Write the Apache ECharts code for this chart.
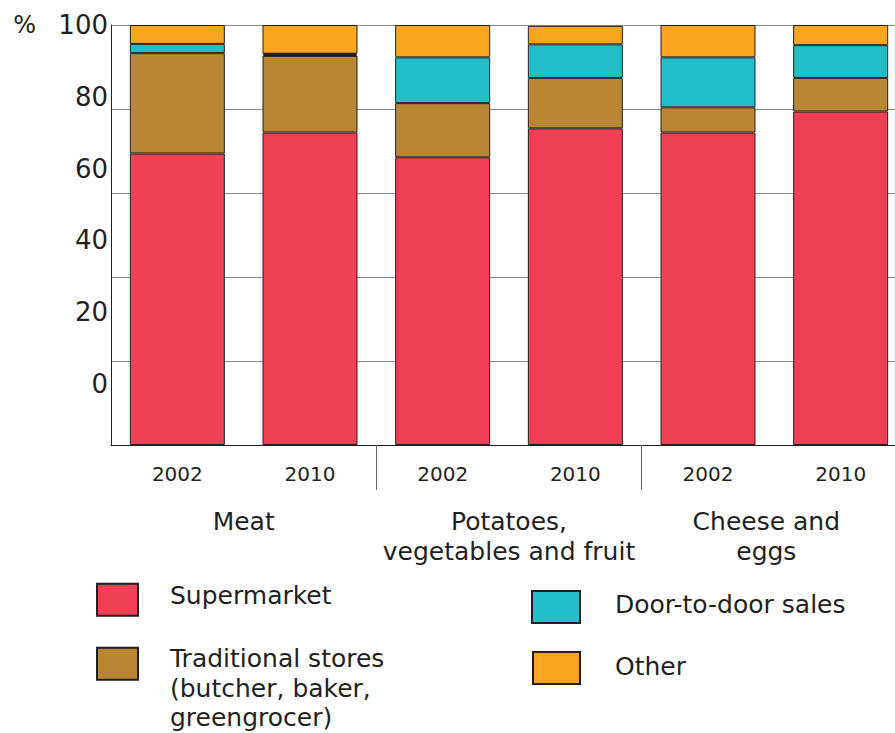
<!DOCTYPE html>
<html>
<head>
<meta charset="utf-8">
<script src="https://cdn.jsdelivr.net/npm/echarts@6/dist/echarts.min.js"></script>
<style>
  html, body { margin: 0; padding: 0; background: #ffffff; }
  #chart { width: 895px; height: 733px; }
</style>
</head>
<body>
<div id="chart"></div>
<script>
// ---- Data ----
const years = ['2002', '2010', '2002', '2010', '2002', '2010'];
const groups = ['Meat', 'Potatoes,\nvegetables and fruit', 'Cheese and\neggs'];
const seriesNames = ['Supermarket', 'Traditional stores\n(butcher, baker,\ngreengrocer)', 'Door-to-door sales', 'Other'];
const supermarket = [69.4, 74.4, 68.5, 75.4, 74.4, 79.4];
const traditional = [23.9, 18.3, 12.9, 12.0, 6.0, 8.0];
const doorToDoor  = [2.2, 0.4, 10.9, 8.0, 11.9, 7.8];
const other       = [4.5, 6.9, 7.7, 4.4, 7.7, 4.8];
const yTickLabels = [0, 20, 40, 60, 80, 100];

// ---- Styles ----
const FONT = 'DejaVu Sans';
const INK = '#231f20';
const colors = ['#ef4056', '#b98633', '#21bec8', '#f9a61e'];
const values = [supermarket, traditional, doorToDoor, other];
const groupLabelPadRight = [0, 0, 16];

const chart = echarts.init(document.getElementById('chart'), null, { renderer: 'svg' });

const series = values.map((arr, si) => ({
  name: seriesNames[si],
  type: 'bar',
  stack: 'total',
  xAxisIndex: 0,
  yAxisIndex: 0,
  barWidth: 95,
  z: si === 2 ? 3 : 2,
  itemStyle: { color: colors[si], borderColor: INK, borderWidth: 1 },
  emphasis: { disabled: true },
  data: arr.map(v => (si === 2 && v < 1)
    ? { value: v, itemStyle: { color: INK, borderColor: INK, borderWidth: 4 } }
    : v)
}));

// legend entry; spacers nudge the text vertically relative to the swatch
function legendEntry(name, left, top, itemWidth, gapLeft, spacerTop, spacerBottom) {
  return {
    orient: 'vertical',
    left: left,
    top: top,
    padding: 0,
    icon: 'rect',
    selectedMode: false,
    itemWidth: itemWidth,
    itemHeight: 32,
    data: [name],
    formatter: (n) => (spacerTop ? '{pad|}\n' : '') + n + (spacerBottom ? '\n{padb|}' : ''),
    textStyle: {
      fontFamily: FONT, fontSize: 25, color: INK, lineHeight: 29.5,
      padding: [0, 0, 0, gapLeft],
      rich: {
        pad: { lineHeight: spacerTop || 1, fontSize: 1 },
        padb: { lineHeight: spacerBottom || 1, fontSize: 1 }
      }
    }
  };
}

const option = {
  animation: false,
  backgroundColor: '#ffffff',
  textStyle: { fontFamily: FONT },
  grid: { left: 111, width: 796, top: 25, bottom: 288, containLabel: false, outerBoundsMode: 'none' },
  xAxis: [
    {
      type: 'category',
      position: 'bottom',
      data: years,
      axisLine: { show: true, lineStyle: { color: INK, width: 1 } },
      axisTick: {
        show: true,
        length: 45,
        interval: (i) => i === 2 || i === 4,
        lineStyle: { color: '#666666', width: 1 }
      },
      axisLabel: { fontFamily: FONT, fontSize: 20, color: INK, margin: 19, interval: 0 },
      splitLine: { show: false }
    },
    {
      type: 'category',
      position: 'bottom',
      data: groups.map((g, i) => ({ value: g, textStyle: { padding: [0, groupLabelPadRight[i], 0, 0] } })),
      axisLine: { show: false },
      axisTick: { show: false },
      axisLabel: { fontFamily: FONT, fontSize: 25, lineHeight: 30, color: INK, margin: 61, interval: 0 },
      splitLine: { show: false }
    }
  ],
  yAxis: [
    {
      type: 'value',
      position: 'left',
      min: 0,
      max: 100,
      interval: 20,
      axisLine: { show: true, lineStyle: { color: INK, width: 1 } },
      axisTick: { show: false },
      axisLabel: { show: false },
      splitLine: { show: true, lineStyle: { color: '#8a8a8a', width: 1 } }
    },
    {
      type: 'value',
      position: 'left',
      min: -17,
      max: 100,
      splitNumber: 6,
      name: '%',
      nameLocation: 'end',
      nameGap: 0,
      nameTextStyle: { fontFamily: FONT, fontSize: 24, color: INK, align: 'right', verticalAlign: 'middle', padding: [0, 75, 2, 0] },
      axisLine: { show: false },
      axisTick: { show: false },
      splitLine: { show: false },
      axisLabel: {
        fontFamily: FONT, fontSize: 26, color: INK, margin: 3,
        formatter: (v) => yTickLabels.indexOf(v) >= 0 ? String(v) : ''
      }
    }
  ],
  legend: [
    legendEntry(seriesNames[0], 96, 581, 41, 27, 0, 8),
    legendEntry(seriesNames[1], 96, 595, 41, 27, 49, 0),
    legendEntry(seriesNames[2], 531, 590, 48, 30, 0, 4.5),
    legendEntry(seriesNames[3], 532, 651, 47, 30, 0, 3)
  ],
  series: series
};

chart.setOption(option);
</script>
</body>
</html>
